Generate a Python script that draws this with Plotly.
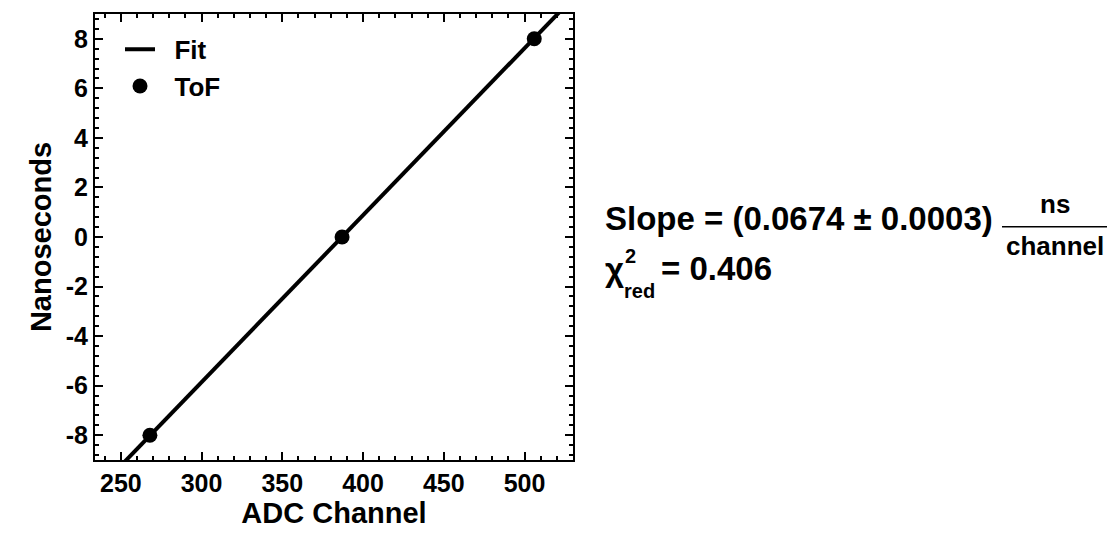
import plotly.graph_objects as go

# Data
tof_channel = [268, 387, 506]
tof_ns = [-8, 0, 8]
fit_slope = 0.0674
fit_intercept = -26.08
fit_channel = [220, 545]
fit_ns = [fit_slope * c + fit_intercept for c in fit_channel]

x_ticks = [250, 300, 350, 400, 450, 500]
y_ticks = [-8, -6, -4, -2, 0, 2, 4, 6, 8]
y_tick_labels = ["-8", "-6", "-4", "-2", "0", "2", "4", "6", "8"]

W, H = 1119, 535
L, R, T, B = 95, 573, 12, 465
FONT = "Liberation Sans"
NB = "\u00a0"


def px(x):
    return (x - L) / (R - L)


def py(y):
    return (B - y) / (B - T)


fig = go.Figure()
fig.add_trace(go.Scatter(x=fit_channel, y=fit_ns, mode="lines", name=NB * 2 + "Fit",
                         line=dict(color="black", width=4)))
fig.add_trace(go.Scatter(x=tof_channel, y=tof_ns, mode="markers", name=NB * 2 + "ToF",
                         marker=dict(color="black", size=15)))

axis_common = dict(showline=True, linewidth=2, linecolor="black", mirror="ticks",
                   ticks="inside", ticklen=8, tickwidth=2, tickcolor="black",
                   showgrid=False, zeroline=False,
                   tickfont=dict(family=FONT, size=25, color="black", weight="bold"))

fig.update_xaxes(range=[234, 530], tickvals=x_ticks,
                 title=dict(text="ADC Channel", font=dict(family=FONT, size=29, color="black", weight="bold"), standoff=6),
                 minor=dict(ticks="inside", ticklen=4, tickwidth=1.5, tickcolor="black", dtick=10),
                 **axis_common)
fig.update_yaxes(range=[-9, 9], tickvals=y_ticks, ticktext=y_tick_labels,
                 title=dict(text="Nanoseconds", font=dict(family=FONT, size=29, color="black", weight="bold"), standoff=6),
                 minor=dict(ticks="inside", ticklen=4, tickwidth=1.5, tickcolor="black", dtick=0.4),
                 **axis_common)

ann_font = dict(family=FONT, size=33, color="black", weight="bold")
frac_font = dict(family=FONT, size=26, color="black", weight="bold")
small_font = dict(family=FONT, size=20, color="black", weight="bold")
annotations = [
    dict(x=px(603), y=py(220), text="Slope = (0.0674 ± 0.0003)", font=ann_font,
         xanchor="left", yanchor="middle"),
    dict(x=px(1055), y=py(205), text="ns", font=frac_font, xanchor="center", yanchor="middle"),
    dict(x=px(1055), y=py(248), text="channel", font=frac_font, xanchor="center", yanchor="middle"),
    dict(x=px(603), y=py(272), text="χ", font=ann_font, xanchor="left", yanchor="middle"),
    dict(x=px(623), y=py(258), text="2", font=small_font, xanchor="left", yanchor="middle"),
    dict(x=px(622), y=py(293), text="red", font=small_font, xanchor="left", yanchor="middle"),
    dict(x=px(659), y=py(270), text="= 0.406", font=ann_font, xanchor="left", yanchor="middle"),
]
for a in annotations:
    a.update(xref="paper", yref="paper", showarrow=False)

fig.update_layout(
    width=W, height=H,
    margin=dict(l=L, r=W - R, t=T, b=H - B),
    paper_bgcolor="white", plot_bgcolor="white",
    annotations=annotations,
    shapes=[dict(type="line", xref="paper", yref="paper", x0=px(1002), x1=px(1107),
                 y0=py(228), y1=py(228), line=dict(color="black", width=1.5))],
    legend=dict(x=px(120), y=py(24), xanchor="left", yanchor="top",
                bgcolor="rgba(0,0,0,0)", borderwidth=0, tracegroupgap=0,
                font=dict(family=FONT, size=26, color="black", weight="bold")),
    showlegend=True,
)

fig.write_html("out.html")
